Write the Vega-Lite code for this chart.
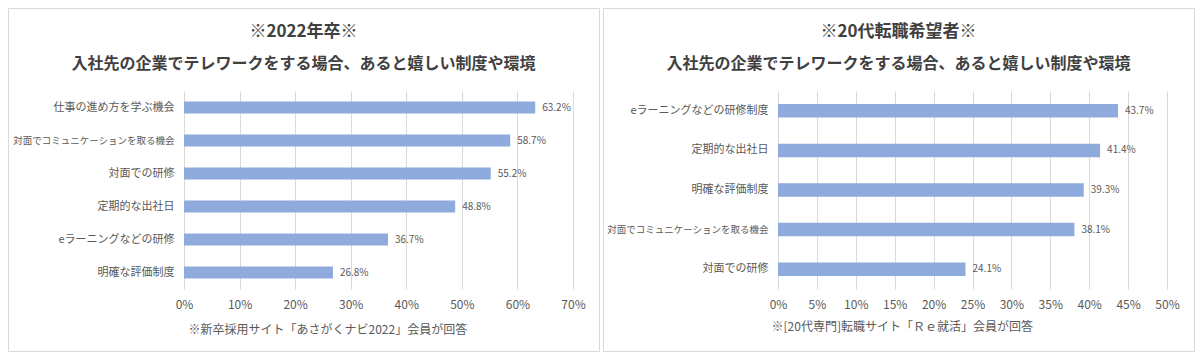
{
  "$schema": "https://vega.github.io/schema/vega-lite/v6.json",
  "padding": {"left": 7, "top": 7, "right": 0, "bottom": 0},
  "background": "white",
  "config": {
    "font": "Noto Sans CJK JP",
    "view": {"stroke": "#D9D9D9", "strokeWidth": 1},
    "concat": {"spacing": 2},
    "title": {"anchor": "middle", "frame": "group", "fontSize": 17, "fontWeight": "bold", "color": "#404040", "subtitleFontSize": 16, "subtitleFontWeight": "bold", "subtitleColor": "#404040", "subtitlePadding": 15},
    "axis": {"labelColor": "#595959", "titleColor": "#595959", "domain": false, "ticks": false, "tickSize": 0, "gridColor": "#D9D9D9", "gridWidth": 1}
  },
  "datasets": {
    "grad": [
      {"item": "仕事の進め方を学ぶ機会", "value": 0.632},
      {"item": "対面でコミュニケーションを取る機会", "value": 0.587},
      {"item": "対面での研修", "value": 0.552},
      {"item": "定期的な出社日", "value": 0.488},
      {"item": "eラーニングなどの研修", "value": 0.367},
      {"item": "明確な評価制度", "value": 0.268}
    ],
    "career": [
      {"item": "eラーニングなどの研修制度", "value": 0.437},
      {"item": "定期的な出社日", "value": 0.414},
      {"item": "明確な評価制度", "value": 0.393},
      {"item": "対面でコミュニケーションを取る機会", "value": 0.381},
      {"item": "対面での研修", "value": 0.241}
    ]
  },
  "hconcat": [
    {
      "width": 591,
      "height": 343,
      "data": {"name": "grad"},
      "title": {"text": "※2022年卒※", "subtitle": "入社先の企業でテレワークをする場合、あると嬉しい制度や環境", "offset": -65},
      "encoding": {
        "y": {
          "field": "item", "type": "nominal", "sort": null, "title": null,
          "scale": {"range": [83, 281], "paddingInner": 0.64, "paddingOuter": 0.32},
          "axis": {"offset": -176, "grid": false, "labelPadding": 10, "labelLimit": 200, "labelFontSize": {"expr": "length(datum.label) > 15 ? 9.5 : 11"}}
        },
        "x": {
          "field": "value", "type": "quantitative",
          "title": "※新卒採用サイト「あさがくナビ2022」会員が回答",
          "scale": {"domain": [0, 0.7], "range": [176, 565], "nice": false},
          "axis": {"orient": "top", "values": [0, 0.1, 0.2, 0.3, 0.4, 0.5, 0.6, 0.7], "format": ".0%", "offset": -305, "grid": true, "labelFlush": false, "labelFontSize": 12, "labelPadding": 2, "labelBaseline": "bottom", "titleFontSize": 12, "titleFontWeight": "normal", "titleAlign": "left", "titleBaseline": "middle", "titleX": 180, "titleY": 16}
        }
      },
      "layer": [
        {"mark": {"type": "bar", "color": "#8FAADC"}},
        {"mark": {"type": "text", "align": "left", "baseline": "middle", "dx": 7, "fontSize": 10, "color": "#595959"},
         "encoding": {"text": {"field": "value", "type": "quantitative", "format": ".1%"}}}
      ]
    },
    {
      "width": 591,
      "height": 343,
      "data": {"name": "career"},
      "title": {"text": "※20代転職希望者※", "subtitle": "入社先の企業でテレワークをする場合、あると嬉しい制度や環境", "offset": -65},
      "encoding": {
        "y": {
          "field": "item", "type": "nominal", "sort": null, "title": null,
          "scale": {"range": [83, 281], "paddingInner": 0.66, "paddingOuter": 0.33},
          "axis": {"offset": -175, "grid": false, "labelPadding": 10, "labelLimit": 200, "labelFontSize": {"expr": "length(datum.label) > 15 ? 9.5 : 11"}}
        },
        "x": {
          "field": "value", "type": "quantitative",
          "title": "※[20代専門]転職サイト「Ｒｅ就活」会員が回答",
          "scale": {"domain": [0, 0.5], "range": [175, 564], "nice": false},
          "axis": {"orient": "top", "values": [0, 0.05, 0.1, 0.15, 0.2, 0.25, 0.3, 0.35, 0.4, 0.45, 0.5], "format": ".0%", "offset": -305, "grid": true, "labelFlush": false, "labelFontSize": 12, "labelPadding": 2, "labelBaseline": "bottom", "titleFontSize": 12, "titleFontWeight": "normal", "titleAlign": "left", "titleBaseline": "middle", "titleX": 168, "titleY": 13}
        }
      },
      "layer": [
        {"mark": {"type": "bar", "color": "#8FAADC"}},
        {"mark": {"type": "text", "align": "left", "baseline": "middle", "dx": 7, "fontSize": 10, "color": "#595959"},
         "encoding": {"text": {"field": "value", "type": "quantitative", "format": ".1%"}}}
      ]
    }
  ]
}
